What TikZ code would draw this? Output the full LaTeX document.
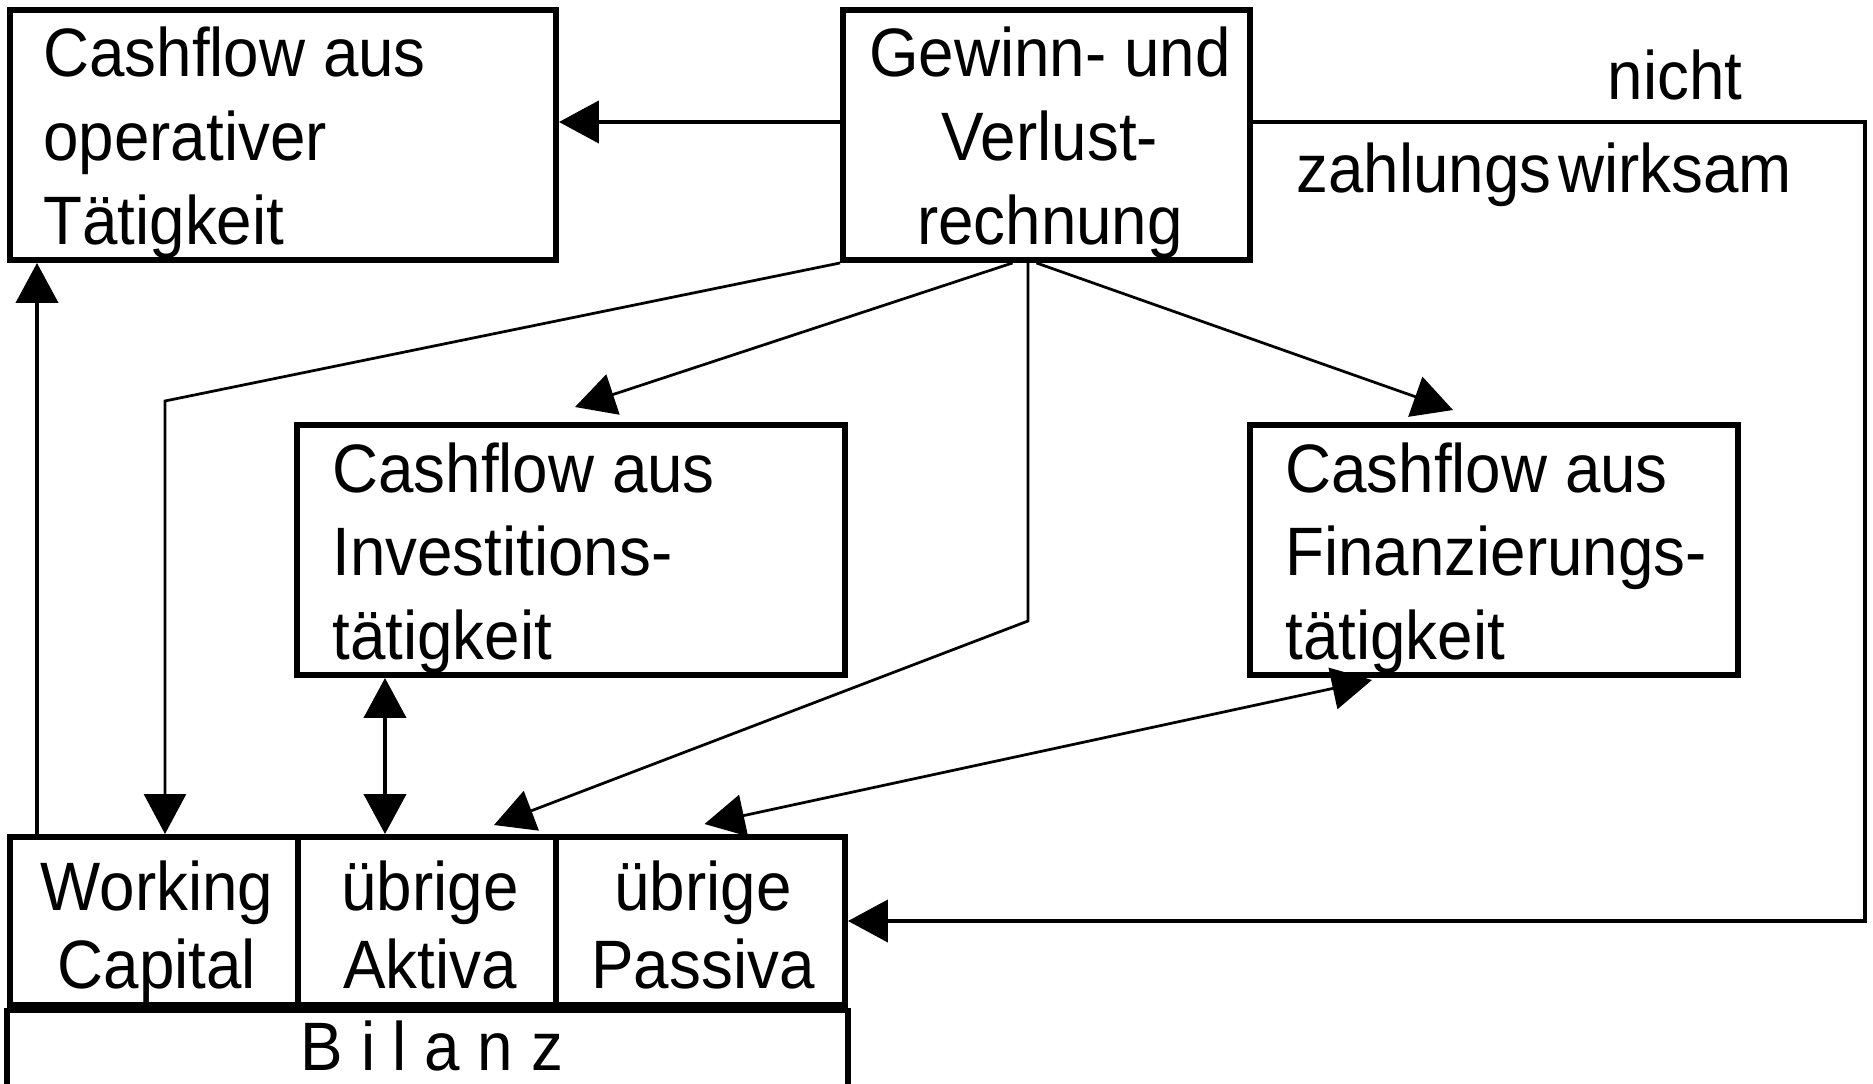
\documentclass[tikz,border=0pt]{standalone}
\usepackage{fontspec}
\setmainfont{Liberation Sans}[FakeStretch=0.93]
\usetikzlibrary{arrows.meta,calc}
\begin{document}
\begin{tikzpicture}[x=0.02cm,y=-0.02cm,
  box/.style={draw,line width=0.12cm,rectangle,inner sep=0pt},
  txt/.style={inner sep=0pt,font=\fontsize{39}{47.8}\selectfont},
  celltxt/.style={inner sep=0pt,font=\fontsize{39}{44.4}\selectfont,align=center,anchor=north},
  tri/.tip={Triangle[length=0.8cm,width=0.84cm]},
  conn/.style={line width=0.085cm,line join=miter},
  thinconn/.style={line width=0.055cm,line join=miter},
]
\useasboundingbox (0,0) rectangle (1873,1084);

% boxes
\node[box,minimum width=10.92cm,minimum height=5cm] (opA) at (283,135) {};
\node[box,minimum width=8.14cm,minimum height=5cm] (guv) at (1046.5,135) {};
\node[box,minimum width=10.96cm,minimum height=5cm] (inv) at (571,550) {};
\node[box,minimum width=9.76cm,minimum height=5cm] (fin) at (1494,550) {};
\node[box,minimum width=5.76cm,minimum height=3.36cm] (wc) at (154,921) {};
\node[box,minimum width=5.16cm,minimum height=3.36cm] (akt) at (427,921) {};
\node[box,minimum width=5.78cm,minimum height=3.36cm] (pas) at (700.5,921) {};

% Bilanz frame
\draw[line width=0.12cm] (wc.south west |- 0,1084) -- (wc.south west);
\draw[line width=0.12cm] (pas.south east |- 0,1084) -- (pas.south east);
\draw[line width=0.19cm] (wc.south west) -- (pas.south east);

% texts
\node[txt,anchor=north west,align=left] (tA) at (43,27) {Cashflow aus\\operativer\\Tätigkeit};
\node[txt,anchor=north,align=center] (tG) at (1050,27) {Gewinn- und\\Verlust-\\rechnung};
\node[txt,anchor=north west,align=left] (tI) at (332,442) {Cashflow aus\\Investitions-\\tätigkeit};
\node[txt,anchor=north west,align=left] (tF) at (1285,442) {Cashflow aus\\Finanzierungs-\\tätigkeit};
\node[celltxt] (tW) at (157,860) {Working\\Capital};
\node[celltxt] (tAk) at (430,860) {übrige\\Aktiva};
\node[celltxt] (tP) at (703,860) {übrige\\Passiva};
\node[txt,anchor=north] (bil) at (432,1020) {B i l a n z};
\node[txt,anchor=north] (nicht) at (1675,50) {nicht};
\node[txt,anchor=north west] (zw) at (1296,143) {zahlungs\hspace{4pt}wirksam};

% connectors
\draw[conn,-{tri}] ($(guv.west)+(0,-13)$) coordinate (g1) -- (g1 -| opA.east);
\coordinate (rloop) at (1865,921);
\draw[conn,-{tri}] ($(guv.east)+(0,-13)$) -| (rloop) -- (pas.east);

\coordinate (lx) at (37,0);
\draw[conn,-{tri}] (wc.north -| lx) -- (opA.south -| lx);

\coordinate (wbend) at (165,401);
\draw[thinconn,-{tri}] (guv.south west) -- (wbend) -- (wbend |- wc.north);

\draw[thinconn,-{tri}] ($(guv.south)+(-34,0)$) -- ($(inv.north)+(4,-15)$);
\draw[thinconn,-{tri}] ($(guv.south)+(-10,0)$) -- ($(fin.north)+(-41,-12)$);

\coordinate (vbend) at (1028,621);
\draw[thinconn,-{tri}] (guv.south -| vbend) -- (vbend) -- ($(akt.north)+(67,-9)$);

\coordinate (ia) at (385,0);
\draw[conn,{tri}-{tri}] (inv.south -| ia) -- (akt.north -| ia);

\draw[thinconn,{tri}-{tri}] ($(pas.north)+(4,-10)$) -- ($(fin.south)+(-122,2)$);
\end{tikzpicture}
\end{document}
